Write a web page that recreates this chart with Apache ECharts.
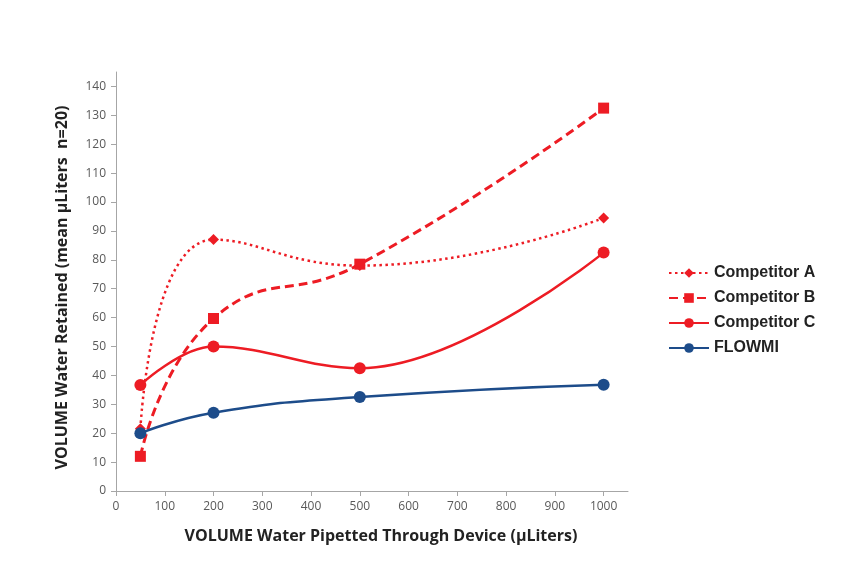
<!DOCTYPE html>
<html>
<head>
<meta charset="utf-8">
<script src="https://cdn.jsdelivr.net/npm/echarts@6/dist/echarts.min.js"></script>
<style>
  html, body { margin: 0; padding: 0; background: #fff; }
  #myCharts { width: 847px; height: 583px; }
</style>
</head>
<body>
<div id="myCharts"></div>
<script>
// x values (µLiters pipetted)
const volumes = [50, 200, 500, 1000]
const competitorA = [21.5, 87, 78, 94.5]
const competitorB = [12, 59.7, 78.5, 132.5]
const competitorC = [36.7, 50, 42.5, 82.5]
const flowmi = [20, 27.1, 32.5, 36.8]

const xTicks = [0, 100, 200, 300, 400, 500, 600, 700, 800, 900, 1000]
const yTicks = [0, 10, 20, 30, 40, 50, 60, 70, 80, 90, 100, 110, 120, 130, 140]

const RED = '#ED1C24'
const BLUE = '#1D4C8A'

function pairs(vals) {
  return volumes.map((v, i) => [v, vals[i]])
}

const myCharts = echarts.init(document.getElementById('myCharts'))

const axisFont = { color: '#595959', fontSize: 12, fontFamily: 'Open Sans' }

const options = {
  backgroundColor: '#fff',
  animation: false,
  grid: {
    left: 116,
    right: 219,
    top: 72,
    bottom: 92
  },
  legend: {
    orient: 'vertical',
    left: 663,
    top: 260,
    itemWidth: 40,
    itemHeight: 12,
    itemGap: 9,
    textStyle: { color: '#222', fontSize: 16, fontWeight: 'bold', fontFamily: 'Liberation Sans' },
    data: ['Competitor A', 'Competitor B', 'Competitor C', 'FLOWMI']
  },
  xAxis: {
    type: 'value',
    min: 0,
    max: 1050,
    name: 'VOLUME Water Pipetted Through Device (µLiters)',
    nameLocation: 'middle',
    nameGap: 37,
    nameTextStyle: {
      color: '#222', fontSize: 16, fontWeight: 'bold', fontFamily: 'Open Sans',
      padding: [0, 0, 0, 18]
    },
    splitLine: { show: false },
    axisLine: { lineStyle: { color: '#A6A6A6' } },
    axisTick: { show: true, length: 5, lineStyle: { color: '#A6A6A6' }, customValues: xTicks },
    axisLabel: Object.assign({
      margin: 10,
      customValues: xTicks,
      formatter: (v) => String(v)
    }, axisFont)
  },
  yAxis: {
    type: 'value',
    min: 0,
    max: 145,
    name: 'VOLUME Water Retained (mean µLiters  n=20)',
    nameLocation: 'middle',
    nameGap: 46,
    nameTextStyle: {
      color: '#222', fontSize: 16, fontWeight: 'bold', fontFamily: 'Open Sans',
      padding: [0, 12, 0, 0]
    },
    splitLine: { show: false },
    axisLine: { show: true, lineStyle: { color: '#A6A6A6' } },
    axisTick: { show: true, length: 5, lineStyle: { color: '#A6A6A6' }, customValues: yTicks },
    axisLabel: Object.assign({ margin: 10, customValues: yTicks }, axisFont)
  },
  series: [
    {
      name: 'Competitor A',
      type: 'line',
      smooth: 0.5,
      data: pairs(competitorA),
      symbol: 'diamond',
      symbolSize: 11,
      itemStyle: { color: RED },
      lineStyle: { color: RED, width: 2.5, type: [2.5, 3.5] }
    },
    {
      name: 'Competitor B',
      type: 'line',
      smooth: 0.5,
      data: pairs(competitorB),
      symbol: 'rect',
      symbolSize: 11,
      itemStyle: { color: RED },
      lineStyle: { color: RED, width: 3, type: [9, 5] }
    },
    {
      name: 'Competitor C',
      type: 'line',
      smooth: 0.4,
      data: pairs(competitorC),
      symbol: 'circle',
      symbolSize: 12,
      itemStyle: { color: RED },
      lineStyle: { color: RED, width: 2.5 }
    },
    {
      name: 'FLOWMI',
      type: 'line',
      smooth: 0.5,
      data: pairs(flowmi),
      symbol: 'circle',
      symbolSize: 12,
      itemStyle: { color: BLUE },
      lineStyle: { color: BLUE, width: 2.5 }
    }
  ]
}

myCharts.setOption(options)
</script>
</body>
</html>
